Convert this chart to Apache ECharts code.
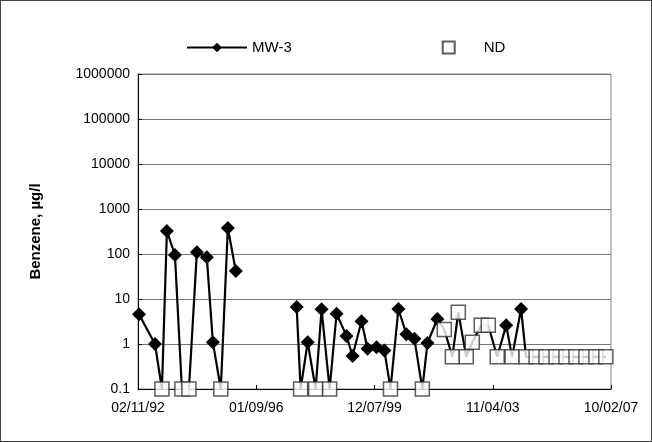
<!DOCTYPE html>
<html>
<head>
<meta charset="UTF-8" />
<script src="https://cdn.jsdelivr.net/npm/echarts@6/dist/echarts.min.js"></script>
</head>
<body style="margin:0">
<div id="chart" style="width:652px;height:442px;box-sizing:border-box;border:1px solid #444"></div>
<script>
// detected samples
let mwDates = ['1992-02-23','1992-09-03','1993-01-25','1993-05-02','1994-01-22','1994-05-22','1994-08-03','1995-01-31','1995-05-07',
  '1997-05-11','1997-09-21','1998-03-08','1998-09-05','1999-01-03','1999-03-17','1999-07-03','1999-09-14','1999-12-31','2000-04-05',
  '2000-09-21','2000-12-26','2001-04-02','2001-09-06','2002-01-04','2004-04-14','2004-10-11'];
let mwValues = [4.6,1.0,324,95,110,85,1.1,380,42,
  6.6,1.1,5.9,4.7,1.5,0.54,3.2,0.78,0.85,0.72,
  6.0,1.65,1.3,1.05,3.6,2.6,6.0];
// non-detects (plotted at detection limit)
let ndDates = ['1992-11-26','1993-07-25','1993-10-18','1994-11-07','1997-06-28','1997-12-26','1998-06-13','2000-06-17','2001-07-07',
  '2002-03-29','2002-07-04','2002-09-14','2002-12-19','2003-03-02','2003-06-18','2003-09-11','2003-12-28','2004-06-25',
  '2004-12-10','2005-04-10','2005-08-08','2005-12-07','2006-04-06','2006-08-05','2006-12-03','2007-04-03','2007-08-01'];
let ndValues = [0.1,0.1,0.1,0.1,0.1,0.1,0.1,0.1,0.1,
  2.1,0.52,5.1,0.52,1.1,2.6,2.6,0.52,0.52,
  0.52,0.52,0.52,0.52,0.52,0.52,0.52,0.52,0.52];
let xTickLabels = ['02/11/92','01/09/96','12/07/99','11/04/03','10/02/07'];
let gapDate = '1996-03-01'; // no sampling between 1995 and 1997

const base = Date.UTC(1992, 1, 11);
const step = 1428;
function toDay(s) { return Math.round((Date.parse(s) - base) / 86400000); }

let all = [];
mwDates.forEach((d, i) => all.push({ value: [toDay(d), mwValues[i]] }));
ndDates.forEach((d, i) => all.push({ value: [toDay(d), ndValues[i]], symbol: 'none' }));
all.push({ value: [toDay(gapDate), '-'] });
all.sort((a, b) => a.value[0] - b.value[0]);
let ndData = ndDates.map((d, i) => [toDay(d), ndValues[i]]);

let chart = echarts.init(document.getElementById('chart'));
chart.setOption({
  animation: false,
  textStyle: { fontFamily: 'Liberation Sans, Arial' },
  legend: {
    top: 34, left: 180, itemGap: 150,
    textStyle: { fontSize: 15, color: '#000' },
    itemWidth: 60, itemHeight: 12,
    data: [{ name: 'MW-3' }, { name: 'ND', icon: 'path://M0,0H10V10H0Z' }]
  },
  grid: { left: 137, right: 40, top: 73, bottom: 52, show: true, borderColor: '#888', borderWidth: 1, backgroundColor: 'transparent' },
  xAxis: {
    type: 'value', min: 0, max: step * 4, interval: step,
    axisLine: { lineStyle: { color: '#000' } },
    axisTick: { inside: true, length: 4, lineStyle: { color: '#000' } },
    axisLabel: { color: '#000', fontSize: 14, margin: 12, formatter: v => xTickLabels[Math.round(v / step)] },
    splitLine: { show: false }
  },
  yAxis: {
    type: 'log', min: 0.1, max: 1000000, logBase: 10,
    name: 'Benzene, µg/l', nameLocation: 'middle', nameGap: 95,
    nameTextStyle: { fontSize: 15, fontWeight: 'bold', color: '#000' },
    axisLine: { show: true, lineStyle: { color: '#000' } },
    axisTick: { show: true, inside: true, length: 4 },
    axisLabel: { color: '#000', fontSize: 14, formatter: v => String(v) },
    splitLine: { lineStyle: { color: '#777' } }
  },
  series: [
    {
      name: 'MW-3', type: 'line', data: all, connectNulls: false,
      symbol: 'diamond', symbolSize: 14,
      lineStyle: { color: '#000', width: 2.2 },
      itemStyle: { color: '#000' }
    },
    {
      name: 'ND', type: 'scatter', data: ndData,
      symbol: 'rect', symbolSize: 14, z: 3,
      itemStyle: { color: '#fff', borderColor: '#333', borderWidth: 1.5 }
    }
  ]
});
</script>
</body>
</html>
